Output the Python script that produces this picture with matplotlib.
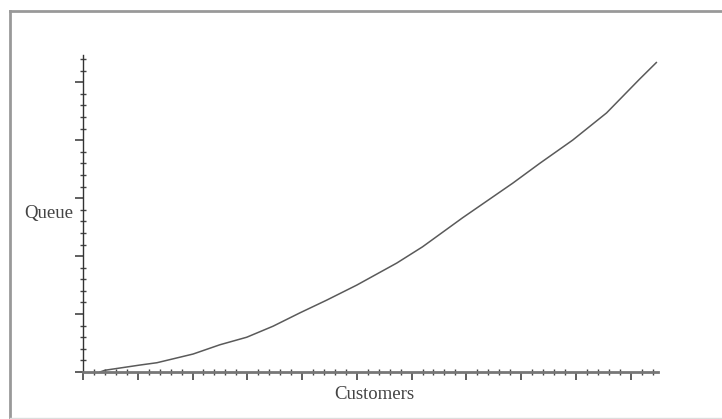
import matplotlib
matplotlib.use('Agg')
import matplotlib.pyplot as plt
from matplotlib.ticker import MultipleLocator, NullFormatter
from matplotlib.lines import Line2D

# --- data (axis units: one major tick = 1) ---
customers = [0.31, 0.40, 1.04, 1.35, 2.01, 2.50, 2.99, 3.47, 3.96, 4.45,
             5.00, 5.73, 6.20, 6.93, 7.85, 8.34, 8.94, 9.56, 10.16, 10.47]
queue = [0.00, 0.03, 0.12, 0.16, 0.31, 0.47, 0.60, 0.79, 1.02, 1.24,
         1.50, 1.88, 2.16, 2.66, 3.26, 3.60, 4.00, 4.47, 5.05, 5.34]

x_label = 'Customers'
y_label = 'Queue'

plt.rcParams['font.family'] = ['Liberation Serif', 'DejaVu Serif']

fig = plt.figure(figsize=(7.22, 4.19), dpi=100)
ax = fig.add_axes([83 / 722, 47 / 419, 575 / 722, 317 / 419])

ax.plot(customers, queue, color='#5a5a5a', linewidth=1.1)

ax.set_xlim(0, 10.5)
ax.set_ylim(0, 5.47)

# only the left and bottom axis lines
ax.spines['top'].set_visible(False)
ax.spines['right'].set_visible(False)
ax.spines['left'].set_color('#333333')
ax.spines['left'].set_linewidth(1.0)
ax.spines['bottom'].set_color('#777777')
ax.spines['bottom'].set_linewidth(2.0)

ax.xaxis.set_major_locator(MultipleLocator(1))
ax.xaxis.set_minor_locator(MultipleLocator(0.2))
ax.yaxis.set_major_locator(MultipleLocator(1))
ax.yaxis.set_minor_locator(MultipleLocator(0.2))
ax.xaxis.set_major_formatter(NullFormatter())
ax.yaxis.set_major_formatter(NullFormatter())
ax.tick_params(which='major', direction='out', length=6, width=1.2, color='#444444')
ax.tick_params(which='minor', direction='inout', length=4, width=1.0, color='#444444')

ax.set_xlabel(x_label, fontsize=13.5, color='#444444', va='center')
ax.xaxis.set_label_coords(0.506, -0.071)
ax.set_ylabel(y_label, fontsize=13.5, color='#444444', rotation=0, ha='right', va='center')
ax.yaxis.set_label_coords(-0.017, 0.50)

# frame around the picture (left, top, bottom)
fig.add_artist(Line2D([9.5 / 722, 9.5 / 722], [1 - 11 / 419, 1 / 419],
                      transform=fig.transFigure, color='#999999', linewidth=2))
fig.add_artist(Line2D([9.5 / 722, 1.0], [1 - 11 / 419, 1 - 11 / 419],
                      transform=fig.transFigure, color='#999999', linewidth=2))
fig.add_artist(Line2D([9.5 / 722, 1.0], [1 / 419, 1 / 419],
                      transform=fig.transFigure, color='#dddddd', linewidth=1))

fig.savefig('out.png', dpi=100)
